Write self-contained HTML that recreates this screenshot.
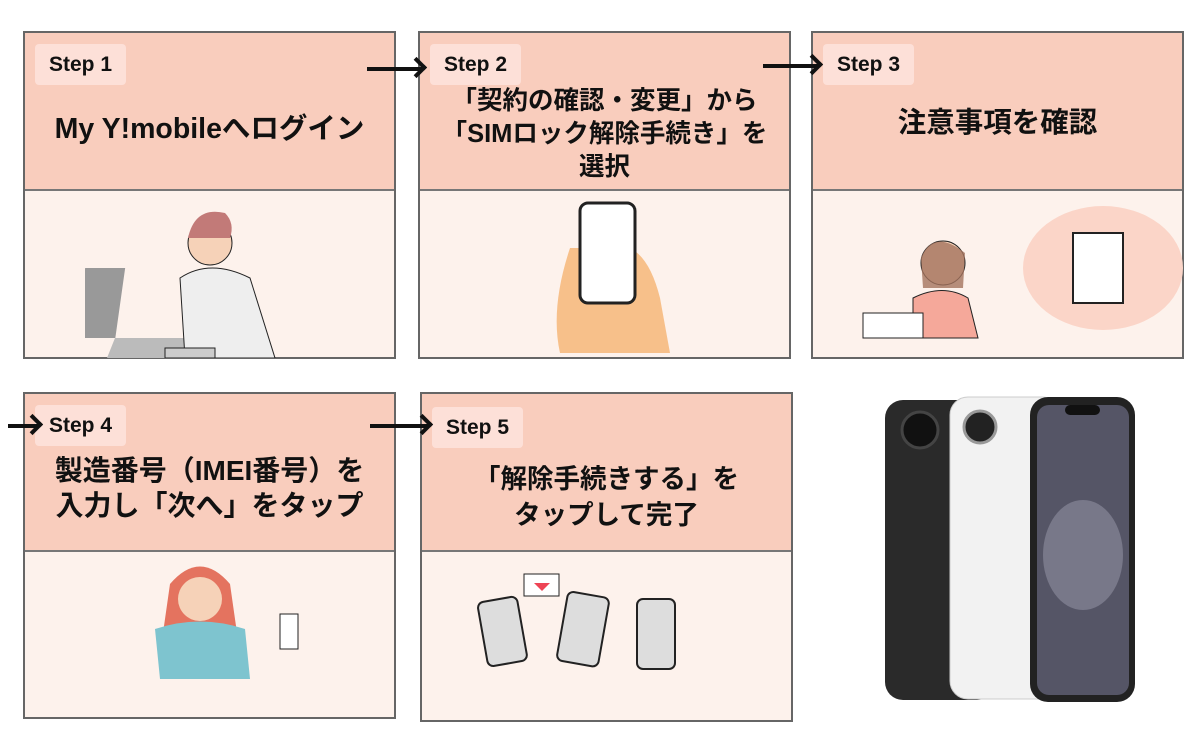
<!DOCTYPE html>
<html><head><meta charset="utf-8"><style>
body{margin:0;width:1200px;height:750px;background:#fff;position:relative;overflow:hidden;font-family:"Liberation Sans","Noto Sans CJK JP",sans-serif}
.card{position:absolute;border:2px solid #666;background:#fdf2ec;box-sizing:border-box}
.hd{position:absolute;left:0;top:0;right:0;background:#f9cdbd;border-bottom:2px solid #777}
.badge{position:absolute;left:10px;top:11px;width:91px;height:41px;background:#fde0d8;border-radius:4px;font-size:21px;font-weight:bold;line-height:41px;text-align:center;color:#111}
.t{position:absolute;left:0;right:0;text-align:center;font-weight:bold;font-size:25px;line-height:36px;color:#111}
.arr{position:absolute;height:4px;background:#111}
.arr:after{content:"";position:absolute;right:-2px;top:-7px;width:11px;height:11px;border-top:4px solid #111;border-right:4px solid #111;transform:rotate(45deg)}
</style></head><body>
<div class="card" style="left:23px;top:31px;width:373px;height:328px"><div class="hd" style="height:156px"><div class="badge">Step 1</div><div class="t" style="top:78px;font-size:28.5px">My Y!mobileへログイン</div></div>
<svg style="position:absolute;left:60px;top:165px" width="240" height="160"><rect x="10" y="70" width="40" height="70" fill="#999" transform="skewX(-8)"/><path d="M30 140 L110 140 L100 165 L20 165Z" fill="#bbb"/><circle cx="125" cy="45" r="22" fill="#f6d2b8" stroke="#222"/><path d="M103 40 Q110 8 140 15 Q150 25 145 40Z" fill="#c27a78"/><path d="M95 80 Q125 60 165 80 L190 160 L100 160Z" fill="#eee" stroke="#222"/><rect x="80" y="150" width="50" height="10" fill="#ccc" stroke="#222"/></svg></div>
<div class="card" style="left:418px;top:31px;width:373px;height:328px"><div class="hd" style="height:156px"><div class="badge">Step 2</div><div class="t" style="top:52px;line-height:33px;font-size:25.5px">「契約の確認・変更」から<br>「SIMロック解除手続き」を<br>選択</div></div>
<svg style="position:absolute;left:110px;top:165px" width="160" height="160"><path d="M40 50 Q20 110 30 155 L140 155 L130 100 Q120 60 100 50Z" fill="#f7c08a"/><rect x="50" y="5" width="55" height="100" rx="8" fill="#fff" stroke="#222" stroke-width="3"/></svg></div>
<div class="card" style="left:811px;top:31px;width:373px;height:328px"><div class="hd" style="height:156px"><div class="badge">Step 3</div><div class="t" style="top:72px;font-size:28.5px">注意事項を確認</div></div>
<svg style="position:absolute;left:30px;top:165px" width="340" height="160"><ellipse cx="260" cy="70" rx="80" ry="62" fill="#fbd5c8"/><rect x="230" y="35" width="50" height="70" fill="#fff" stroke="#222" stroke-width="2"/><circle cx="100" cy="65" r="22" fill="#f6d2b8" stroke="#222"/><path d="M78 60 Q90 30 122 55 L120 90 L80 90Z" fill="#a4735e" opacity=".8"/><path d="M70 100 Q100 85 125 100 L135 140 L70 140Z" fill="#f5a89a" stroke="#222"/><rect x="20" y="115" width="60" height="25" fill="#fff" stroke="#222"/></svg></div>
<div class="arr" style="left:367px;top:67px;width:55px"></div>
<div class="arr" style="left:763px;top:64px;width:55px"></div>
<div class="card" style="left:23px;top:392px;width:373px;height:327px"><div class="hd" style="height:156px"><div class="badge">Step 4</div><div class="t" style="top:59px;font-size:28px;line-height:35px">製造番号（IMEI番号）を<br>入力し「次へ」をタップ</div></div>
<svg style="position:absolute;left:90px;top:160px" width="200" height="165"><path d="M55 30 Q85 -5 115 30 L125 100 L45 100Z" fill="#e4735f"/><circle cx="85" cy="45" r="22" fill="#f6d2b8"/><path d="M40 75 Q85 60 130 75 L135 125 L45 125Z" fill="#7ec4cf"/><rect x="165" y="60" width="18" height="35" fill="#fff" stroke="#222"/></svg></div>
<div class="card" style="left:420px;top:392px;width:373px;height:330px"><div class="hd" style="height:156px"><div class="badge" style="top:13px">Step 5</div><div class="t" style="top:67px;font-size:26.5px">「解除手続きする」を<br>タップして完了</div></div>
<svg style="position:absolute;left:50px;top:165px" width="280" height="160"><rect x="10" y="40" width="40" height="65" rx="6" fill="#ddd" stroke="#222" stroke-width="2" transform="rotate(-10 30 70)"/><rect x="90" y="35" width="42" height="70" rx="6" fill="#ddd" stroke="#222" stroke-width="2" transform="rotate(10 110 70)"/><rect x="165" y="40" width="38" height="70" rx="6" fill="#ddd" stroke="#222" stroke-width="2"/><rect x="52" y="15" width="35" height="22" fill="#fff" stroke="#222"/><path d="M62 24 L70 32 L78 24" fill="#e45"/></svg></div>
<div class="arr" style="left:8px;top:424px;width:30px"></div>
<div class="arr" style="left:370px;top:424px;width:58px"></div>
<svg style="position:absolute;left:880px;top:395px" width="260" height="310">
<rect x="5" y="5" width="110" height="300" rx="18" fill="#2a2a2a"/>
<circle cx="40" cy="35" r="18" fill="#111" stroke="#444" stroke-width="3"/>
<rect x="70" y="2" width="110" height="302" rx="18" fill="#f2f2f2" stroke="#ccc"/>
<circle cx="100" cy="32" r="16" fill="#222" stroke="#999" stroke-width="3"/>
<rect x="150" y="2" width="105" height="305" rx="18" fill="#222"/>
<rect x="157" y="10" width="92" height="290" rx="12" fill="#556"/>
<ellipse cx="203" cy="160" rx="40" ry="55" fill="#889" opacity=".7"/>
<rect x="185" y="10" width="35" height="10" rx="5" fill="#111"/>
</svg>
</body></html>
